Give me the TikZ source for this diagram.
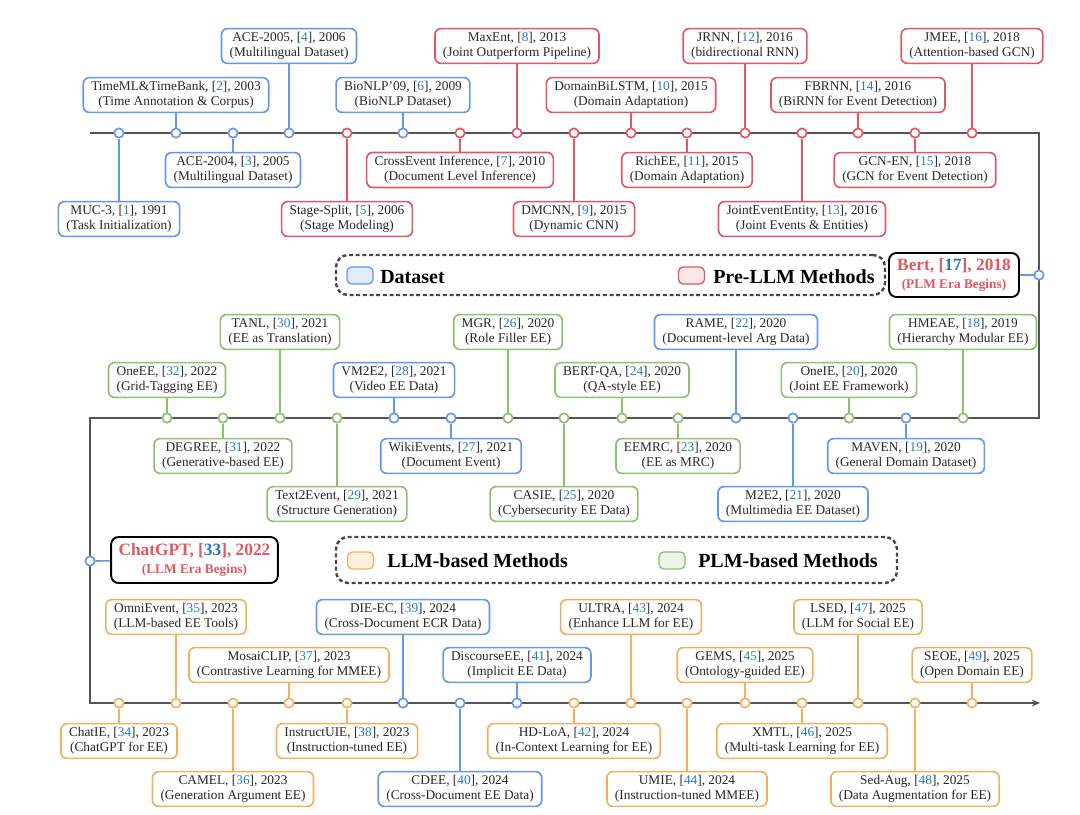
\documentclass[tikz,border=0pt]{standalone}
\usepackage{fontspec}
\setmainfont{Liberation Serif}
\usetikzlibrary{arrows.meta,fit}
\definecolor{cblue}{RGB}{100,152,236}
\definecolor{cred}{RGB}{226,88,98}
\definecolor{cgreen}{RGB}{140,194,110}
\definecolor{corange}{RGB}{246,174,94}
\definecolor{cbluel}{RGB}{226,236,251}
\definecolor{credl}{RGB}{252,231,232}
\definecolor{cgreenl}{RGB}{234,245,230}
\definecolor{corangel}{RGB}{253,239,226}
\definecolor{citec}{RGB}{44,120,190}
\definecolor{linec}{RGB}{85,85,85}
\definecolor{textc}{RGB}{40,40,40}
\definecolor{legc}{RGB}{70,70,70}
\newcommand{\cnum}[1]{[\textcolor{citec}{#1}]}
\newcommand{\ev}[9]{%
  \node[evbox,draw=#5] (#1) at (#2,#3) {#6, \cnum{#7}, #8\\(#9)};
  \node[dot,draw=#5] (#1d) at (#2,#4) {};
  \draw[conn,draw=#5] (#1d) -- (#1);
}
\tikzset{
  evbox/.style={rectangle, rounded corners=4.5pt, line width=1.25pt, fill=white, text=textc,
    font=\fontsize{10}{11}\selectfont, align=center, inner xsep=6pt, inner ysep=3pt},
  dot/.style={circle, fill=white, line width=1.25pt, minimum size=7pt, inner sep=0pt},
  conn/.style={line width=1.25pt},
  tl/.style={line width=1.5pt, draw=linec},
  legbox/.style={draw=legc, line width=1.8pt, dash pattern=on 3pt off 2pt, rounded corners=9pt, inner sep=0pt},
  swatch/.style={rectangle, rounded corners=3.5pt, line width=1pt, minimum width=19.5pt, minimum height=12.75pt, inner sep=0pt},
  legtext/.style={font=\fontsize{15}{17}\selectfont\bfseries, text=black, inner sep=0pt},
  erabox/.style={draw=black, line width=1.4pt, rounded corners=5.5pt, fill=white, align=center, text=cred, inner sep=0pt}
}
\begin{document}
\begin{tikzpicture}[x=0.75pt,y=-0.75pt]
\useasboundingbox (0,0) rectangle (1080,814);
% timeline
\coordinate (t0) at (90,133);
\coordinate (t1) at (1039,133);
\coordinate (t2) at (1039,418);
\coordinate (t3) at (90,418);
\coordinate (t4) at (90,703);
\coordinate (t5) at (1040,703);
\draw[tl,-{Stealth[length=6pt,width=5pt,inset=1.8pt]}] (t0) -- (t1) -- (t2) -- (t3) -- (t4) -- (t5);
% legends
\node[legbox, fit={(336,255) (885,295)}] (leg1) {};
\node[swatch, draw=cblue, fill=cbluel] (s1) at (360,275.5) {};
\node[legtext, anchor=base west] (l1) at (380,283) {Dataset};
\node[swatch, draw=cred, fill=credl] (s2) at (691.5,275.5) {};
\node[legtext, anchor=base west] (l2) at (713,283) {Pre-LLM Methods};
\node[legbox, fit={(336,537) (897,583)}] (leg2) {};
\node[swatch, draw=corange, fill=corangel] (s3) at (360.5,560.5) {};
\node[legtext, anchor=base west] (l3) at (387,567) {LLM-based Methods};
\node[swatch, draw=cgreen, fill=cgreenl] (s4) at (672,560.5) {};
\node[legtext, anchor=base west] (l4) at (698,567) {PLM-based Methods};
% top row
\ev{a1}{119}{219}{133}{cblue}{MUC-3}{1}{1991}{Task Initialization}
\ev{a2}{176}{95}{133}{cblue}{TimeML\&TimeBank}{2}{2003}{Time Annotation \& Corpus}
\ev{a3}{233}{170}{133}{cblue}{ACE-2004}{3}{2005}{Multilingual Dataset}
\ev{a4}{289}{46}{133}{cblue}{ACE-2005}{4}{2006}{Multilingual Dataset}
\ev{a5}{347}{219}{133}{cred}{Stage-Split}{5}{2006}{Stage Modeling}
\ev{a6}{403}{95}{133}{cblue}{BioNLP'09}{6}{2009}{BioNLP Dataset}
\ev{a7}{460}{170}{133}{cred}{CrossEvent Inference}{7}{2010}{Document Level Inference}
\ev{a8}{517}{46}{133}{cred}{MaxEnt}{8}{2013}{Joint Outperform Pipeline}
\ev{a9}{574}{219}{133}{cred}{DMCNN}{9}{2015}{Dynamic CNN}
\ev{a10}{631}{95}{133}{cred}{DomainBiLSTM}{10}{2015}{Domain Adaptation}
\ev{a11}{687}{170}{133}{cred}{RichEE}{11}{2015}{Domain Adaptation}
\ev{a12}{745}{46}{133}{cred}{JRNN}{12}{2016}{bidirectional RNN}
\ev{a13}{802}{219}{133}{cred}{JointEventEntity}{13}{2016}{Joint Events \& Entities}
\ev{a14}{858}{95}{133}{cred}{FBRNN}{14}{2016}{BiRNN for Event Detection}
\ev{a15}{915}{170}{133}{cred}{GCN-EN}{15}{2018}{GCN for Event Detection}
\ev{a16}{972}{46}{133}{cred}{JMEE}{16}{2018}{Attention-based GCN}
% middle row
\ev{b18}{963}{332}{418}{cgreen}{HMEAE}{18}{2019}{Hierarchy Modular EE}
\ev{b19}{906}{456}{418}{cblue}{MAVEN}{19}{2020}{General Domain Dataset}
\ev{b20}{849}{380}{418}{cgreen}{OneIE}{20}{2020}{Joint EE Framework}
\ev{b21}{793}{504}{418}{cblue}{M2E2}{21}{2020}{Multimedia EE Dataset}
\ev{b22}{736}{332}{418}{cblue}{RAME}{22}{2020}{Document-level Arg Data}
\ev{b23}{678}{456}{418}{cgreen}{EEMRC}{23}{2020}{EE as MRC}
\ev{b24}{622}{380}{418}{cgreen}{BERT-QA}{24}{2020}{QA-style EE}
\ev{b25}{564}{504}{418}{cgreen}{CASIE}{25}{2020}{Cybersecurity EE Data}
\ev{b26}{508}{332}{418}{cgreen}{MGR}{26}{2020}{Role Filler EE}
\ev{b27}{451}{456}{418}{cblue}{WikiEvents}{27}{2021}{Document Event}
\ev{b28}{394}{380}{418}{cblue}{VM2E2}{28}{2021}{Video EE Data}
\ev{b29}{337}{504}{418}{cgreen}{Text2Event}{29}{2021}{Structure Generation}
\ev{b30}{280}{332}{418}{cgreen}{TANL}{30}{2021}{EE as Translation}
\ev{b31}{223}{456}{418}{cgreen}{DEGREE}{31}{2022}{Generative-based EE}
\ev{b32}{167}{380}{418}{cgreen}{OneEE}{32}{2022}{Grid-Tagging EE}
% bottom row
\ev{c34}{119}{741}{703}{corange}{ChatIE}{34}{2023}{ChatGPT for EE}
\ev{c35}{176}{617}{703}{corange}{OmniEvent}{35}{2023}{LLM-based EE Tools}
\ev{c36}{233}{789}{703}{corange}{CAMEL}{36}{2023}{Generation Argument EE}
\ev{c37}{289}{665}{703}{corange}{MosaiCLIP}{37}{2023}{Contrastive Learning for MMEE}
\ev{c38}{347}{741}{703}{corange}{InstructUIE}{38}{2023}{Instruction-tuned EE}
\ev{c39}{403}{617}{703}{cblue}{DIE-EC}{39}{2024}{Cross-Document ECR Data}
\ev{c40}{460}{789}{703}{cblue}{CDEE}{40}{2024}{Cross-Document EE Data}
\ev{c41}{517}{665}{703}{cblue}{DiscourseEE}{41}{2024}{Implicit EE Data}
\ev{c42}{574}{741}{703}{corange}{HD-LoA}{42}{2024}{In-Context Learning for EE}
\ev{c43}{631}{617}{703}{corange}{ULTRA}{43}{2024}{Enhance LLM for EE}
\ev{c44}{687}{789}{703}{corange}{UMIE}{44}{2024}{Instruction-tuned MMEE}
\ev{c45}{745}{665}{703}{corange}{GEMS}{45}{2025}{Ontology-guided EE}
\ev{c46}{802}{741}{703}{corange}{XMTL}{46}{2025}{Multi-task Learning for EE}
\ev{c47}{858}{617}{703}{corange}{LSED}{47}{2025}{LLM for Social EE}
\ev{c48}{915}{789}{703}{corange}{Sed-Aug}{48}{2025}{Data Augmentation for EE}
\ev{c49}{972}{665}{703}{corange}{SEOE}{49}{2025}{Open Domain EE}
% era boxes
\node[erabox, minimum width=97.5pt, minimum height=33pt] (bert) at (954,275)
  {{\fontsize{13}{15}\selectfont\bfseries Bert, [\textcolor{citec}{17}], 2018}\\[1pt]{\fontsize{10}{12}\selectfont\bfseries (PLM Era Begins)}};
\node[dot, draw=cblue] (bertd) at (1039,275) {};
\draw[conn, draw=cblue] (bertd) -- (bert);
\node[erabox, minimum width=125pt, minimum height=34.5pt] (gpt) at (194.5,560)
  {{\fontsize{13}{15}\selectfont\bfseries ChatGPT, [\textcolor{citec}{33}], 2022}\\[1pt]{\fontsize{10}{12}\selectfont\bfseries (LLM Era Begins)}};
\node[dot, draw=cblue] (gptd) at (90,561) {};
\draw[conn, draw=cblue] (gptd) -- (gpt);
\end{tikzpicture}
\end{document}
